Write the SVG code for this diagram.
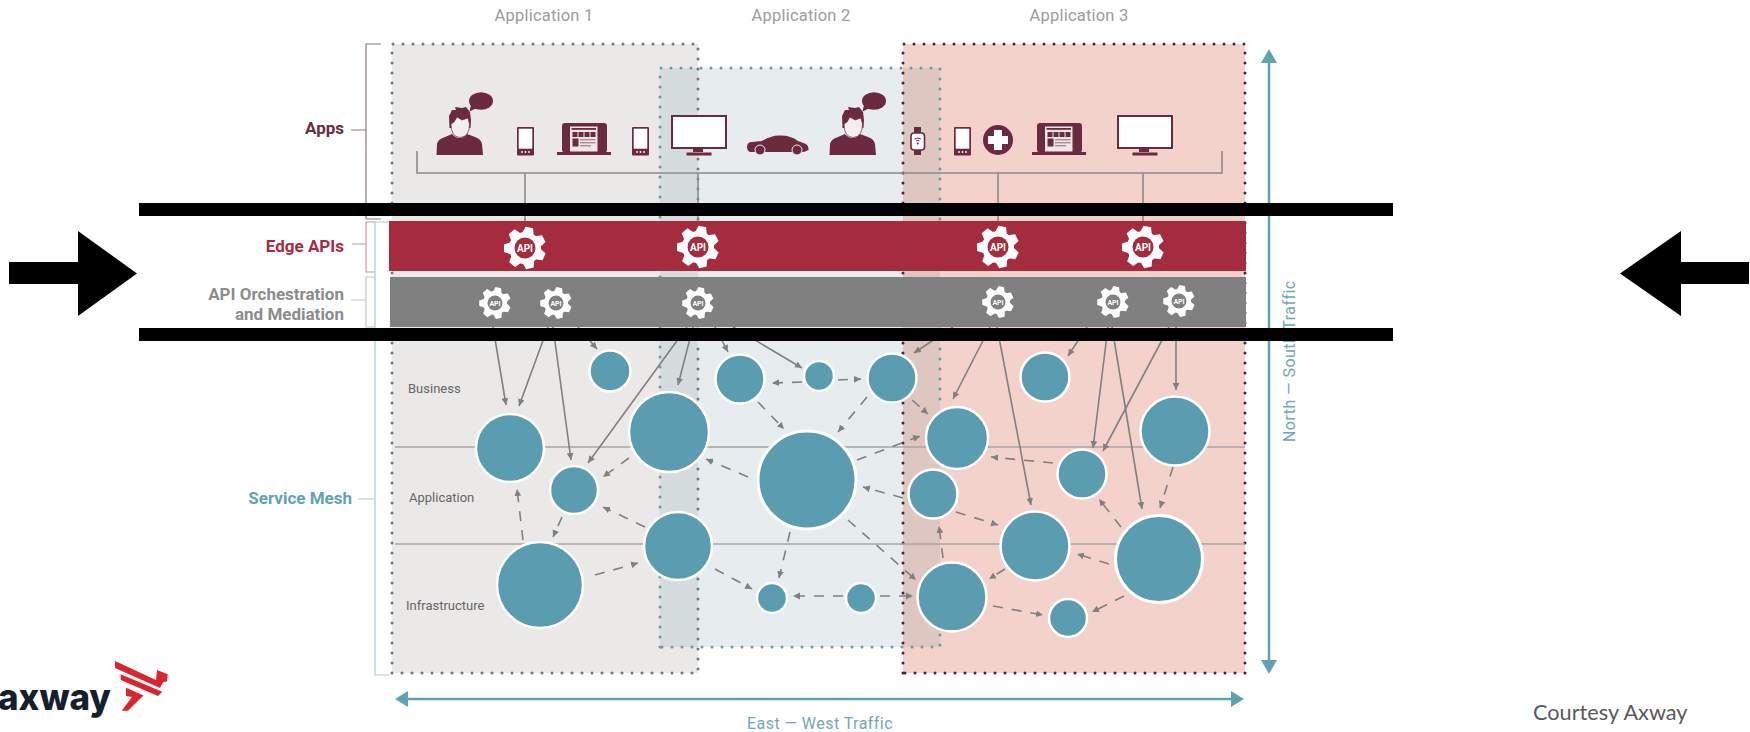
<svg xmlns="http://www.w3.org/2000/svg" xmlns:xlink="http://www.w3.org/1999/xlink" width="1750" height="732" viewBox="0 0 1750 732">
<style>
text{font-family:Roboto,"Liberation Sans",sans-serif}
.app{font-size:16.5px;fill:#9c9c9c;text-anchor:middle;letter-spacing:.2px}
.lbl{font-size:17px;font-weight:700;text-anchor:end}
.layer{font-size:13px;fill:#666}
.traffic{font-size:16px;fill:#72a7b5;letter-spacing:.45px}
.tick{stroke-width:1.2;fill:none}
.dot{fill:none;stroke-width:3;stroke-linecap:round;stroke-dasharray:0 10}
.band{stroke:#a9a5a5;stroke-width:1.5;fill:none}
.bus{stroke:#8b8b8b;stroke-width:1.6;fill:none}
.ink{fill:#6b2a40}
.c{fill:#5b9db0;stroke:#fff;stroke-width:2.5}
.s{stroke:#808080;stroke-width:1.6;fill:none;marker-end:url(#ah)}
.d{stroke:#808080;stroke-width:1.6;fill:none;stroke-dasharray:10 9;marker-end:url(#ah)}
.t{stroke:#5fa3b2;stroke-width:2.5;fill:none}
.ta{fill:#5fa3b2}
.gt{font-weight:700;fill:#fff;text-anchor:middle}
</style>
<defs>
<marker id="ah" markerUnits="userSpaceOnUse" markerWidth="8" markerHeight="8" refX="7" refY="4" orient="auto"><path d="M0 .6L7 4L0 7.400Z" fill="#808080"/></marker>
<g id="gear" fill="#fff" transform="rotate(12)">
<circle r="16"/>
<path id="tooth" d="M-6-14L-3.800-21H3.800L6-14Z"/>
<use xlink:href="#tooth" href="#tooth" transform="rotate(51.430)"/>
<use xlink:href="#tooth" href="#tooth" transform="rotate(102.860)"/>
<use xlink:href="#tooth" href="#tooth" transform="rotate(154.290)"/>
<use xlink:href="#tooth" href="#tooth" transform="rotate(205.710)"/>
<use xlink:href="#tooth" href="#tooth" transform="rotate(257.140)"/>
<use xlink:href="#tooth" href="#tooth" transform="rotate(308.570)"/>
</g>
<g id="person">
<path class="ink" d="M436.500 155L437 144Q438 139 445 137L452 134Q459 142 467 134L475 137Q481 139 482 144L483 155Z"/>
<path class="ink" d="M449.500 128L449 116L452 110L456 110L455 107L462 108L466 107L470 112L471 120L470.500 128Z"/>
<path d="M451 124L454 122L457 117L462 120L468 118L469.500 124Q469.500 137 460 137.500Q451 137 451 124Z" fill="#f2efef" stroke="#6b2a40" stroke-width=".7"/>
<ellipse class="ink" cx="481" cy="101" rx="12" ry="8.800"/>
<path class="ink" d="M471 105L469.500 111.500L477 108Z"/>
</g>
<g id="phone">
<rect class="ink" x="0" y="0" width="17" height="28.500" rx="1"/>
<rect x="1.700" y="1.700" width="13.600" height="20" fill="#fff"/>
<circle cx="5" cy="25" r=".9" fill="#fff"/><circle cx="8.500" cy="25" r=".9" fill="#fff"/><circle cx="12" cy="25" r=".9" fill="#fff"/>
</g>
<g id="laptop">
<rect class="ink" x="5" y="0" width="45" height="29.500" rx="3"/>
<rect class="ink" x="0" y="29" width="54" height="3"/>
<rect x="13" y="3.500" width="27.500" height="25" fill="#efe6e6"/>
<rect class="ink" x="14.500" y="5" width="24.500" height="1.800"/>
<rect class="ink" x="15.500" y="9" width="5" height="5"/><rect class="ink" x="21.500" y="9" width="5" height="5"/><rect class="ink" x="27.500" y="9" width="5" height="5"/><rect class="ink" x="33.500" y="9" width="5" height="5"/>
<rect class="ink" x="15.500" y="15.500" width="6" height="8"/>
<rect x="23" y="16" width="15.500" height="1.400" fill="#a98c96"/><rect x="23" y="19" width="15.500" height="1.400" fill="#a98c96"/><rect x="23" y="22" width="11" height="1.400" fill="#a98c96"/>
</g>
<g id="monitor">
<rect x="1" y="1" width="54" height="32" fill="#fff" stroke="#6b2a40" stroke-width="2"/>
<rect class="ink" x="22" y="34" width="10" height="3"/>
<rect class="ink" x="15.500" y="37.500" width="25" height="3"/>
</g>
</defs>

<rect width="1750" height="732" fill="#fff"/>

<g id="zones">
<rect x="392" y="44" width="306" height="629" fill="#ebe8e8"/>
<rect x="660" y="68" width="280" height="579" fill="#e7edef"/>
<rect x="903" y="44" width="342" height="629" fill="#f3d2cc"/>
<rect x="660" y="68" width="38" height="579" fill="#d5dcde"/>
<rect x="903" y="68" width="37" height="579" fill="#dec6c1"/>
<path class="dot" stroke="#777" d="M392 673V44H698V673H392"/>
<path class="dot" stroke="#6c9aa6" d="M660 647V68H940V400M940 635V647H660"/>
<path class="dot" stroke="#4a2433" d="M903 673V44H1245V673H903"/>
<path class="band" d="M395 447H1245M395 544H1245"/>
</g>

<g id="brackets">
<path class="tick" stroke="#8a7a80" d="M381 44H366V219H381M351 130H366"/>
<path class="tick" stroke="#c79aa2" d="M375 222H366V272H375M352 244H366"/>
<path class="tick" stroke="#c4c4c4" d="M375 277H366V327H375M351 300H366"/>
<path class="tick" stroke="#a5ccd6" d="M389 222H375V675H389M358 499H374"/>
</g>

<g id="labels">
<text class="app" x="544" y="21">Application 1</text>
<text class="app" x="801" y="21">Application 2</text>
<text class="app" x="1079" y="21">Application 3</text>
<text class="lbl" x="344" y="134" fill="#6b2a40">Apps</text>
<text class="lbl" x="344" y="252" fill="#a52c3f">Edge APIs</text>
<text class="lbl" x="344" y="300" fill="#8c8c8c">API Orchestration</text>
<text class="lbl" x="344" y="320" fill="#8c8c8c">and Mediation</text>
<text class="lbl" x="352" y="504" fill="#63a2b2">Service Mesh</text>
<text class="layer" x="408" y="393">Business</text>
<text class="layer" x="409" y="502">Application</text>
<text class="layer" x="406" y="610">Infrastructure</text>
<text class="traffic" x="747" y="729">East — West Traffic</text>
<text class="traffic" transform="translate(1295 442) rotate(-90)">North — South Traffic</text>
<text x="1533" y="720" font-size="21.700" fill="#595959" style="font-family:Lato,'Open Sans',sans-serif">Courtesy Axway</text>
</g>

<g id="apps-bus"><path class="bus" d="M417 151V173H1222V151M525 173V221M698 173V221M998 173V221M1143 173V221"/></g>

<g id="app-icons">
<use id="user-1" xlink:href="#person" href="#person"/>
<use id="phone-1" xlink:href="#phone" href="#phone" x="517" y="127"/>
<use id="laptop-1" xlink:href="#laptop" href="#laptop" x="557" y="123"/>
<use id="phone-2" xlink:href="#phone" href="#phone" x="632" y="127"/>
<use id="monitor-1" xlink:href="#monitor" href="#monitor" x="671" y="115"/>
<g id="car">
<path class="ink" d="M747 147Q747 142 752 142L762 141Q772 135 780 135.500Q790 135 798 141L806 144Q809 146 808.500 150L804 152H750Q747 151 747 147Z"/>
<circle cx="760" cy="150" r="5" fill="#6b2a40" stroke="#e7edef" stroke-width="1"/>
<circle cx="797" cy="150" r="5" fill="#6b2a40" stroke="#e7edef" stroke-width="1"/>
</g>
<use id="user-2" xlink:href="#person" href="#person" x="393"/>
<g id="watch">
<rect class="ink" x="914" y="127" width="7" height="8"/><rect class="ink" x="914" y="148" width="7" height="7"/>
<rect x="911" y="133" width="13.500" height="17" rx="3" fill="#fff" stroke="#6b2a40" stroke-width="1.600"/>
<path d="M914.500 139Q917.700 137 921 139M916 141Q917.700 140 919.500 141" fill="none" stroke="#6b2a40" stroke-width="1"/>
<circle cx="917.700" cy="143.500" r="1" fill="#6b2a40"/>
</g>
<use id="phone-3" xlink:href="#phone" href="#phone" x="954" y="127"/>
<g id="health"><circle class="ink" cx="998" cy="140" r="15"/><path fill="#fff" d="M994 130H1002V136H1008V144H1002V150H994V144H988V136H994Z"/></g>
<use id="laptop-2" xlink:href="#laptop" href="#laptop" x="1032" y="123"/>
<use id="monitor-2" xlink:href="#monitor" href="#monitor" x="1117" y="115"/>
</g>

<g id="bars">
<rect id="edge-bar" x="389" y="221" width="857" height="50" fill="#a52b3e"/>
<rect id="orchestration-bar" x="390" y="277" width="856" height="50" fill="#808080"/>
</g>

<g id="edge-gears" font-size="10">
<g id="edge-1" transform="translate(525 248)"><use xlink:href="#gear" href="#gear"/><circle r="10.500" fill="#a52b3e"/><text class="gt" y="3.500">API</text></g>
<g id="edge-2" transform="translate(698 247)"><use xlink:href="#gear" href="#gear"/><circle r="10.500" fill="#a52b3e"/><text class="gt" y="3.500">API</text></g>
<g id="edge-3" transform="translate(998 247)"><use xlink:href="#gear" href="#gear"/><circle r="10.500" fill="#a52b3e"/><text class="gt" y="3.500">API</text></g>
<g id="edge-4" transform="translate(1143 247)"><use xlink:href="#gear" href="#gear"/><circle r="10.500" fill="#a52b3e"/><text class="gt" y="3.500">API</text></g>
</g>
<g id="orchestration-gears" font-size="7">
<g id="orch-1" transform="translate(495 303)"><use xlink:href="#gear" href="#gear" transform="scale(.75)"/><circle r="7.500" fill="#808080"/><text class="gt" y="2.500">API</text></g>
<g id="orch-2" transform="translate(556 303)"><use xlink:href="#gear" href="#gear" transform="scale(.75)"/><circle r="7.500" fill="#808080"/><text class="gt" y="2.500">API</text></g>
<g id="orch-3" transform="translate(698 303)"><use xlink:href="#gear" href="#gear" transform="scale(.75)"/><circle r="7.500" fill="#808080"/><text class="gt" y="2.500">API</text></g>
<g id="orch-4" transform="translate(998 302)"><use xlink:href="#gear" href="#gear" transform="scale(.75)"/><circle r="7.500" fill="#808080"/><text class="gt" y="2.500">API</text></g>
<g id="orch-5" transform="translate(1113 302)"><use xlink:href="#gear" href="#gear" transform="scale(.75)"/><circle r="7.500" fill="#808080"/><text class="gt" y="2.500">API</text></g>
<g id="orch-6" transform="translate(1179 301)"><use xlink:href="#gear" href="#gear" transform="scale(.75)"/><circle r="7.500" fill="#808080"/><text class="gt" y="2.500">API</text></g>
</g>

<g id="connectors">
<path class="s" d="M493 327L506 405"/>
<path class="s" d="M548 327L519 406"/>
<path class="s" d="M553 327L571 460"/>
<path class="s" d="M578 327L597 349"/>
<path class="s" d="M687 327L588 463"/>
<path class="s" d="M693 327L678 385"/>
<path class="s" d="M715 327L728 352"/>
<path class="s" d="M733 327L802 368"/>
<path class="s" d="M953 327L914 353"/>
<path class="s" d="M990 327L953 399"/>
<path class="s" d="M997 327L1031 505"/>
<path class="s" d="M1087 327L1068 356"/>
<path class="s" d="M1108 327L1093 448"/>
<path class="s" d="M1112 327L1142 509"/>
<path class="s" d="M1169 327L1103 451"/>
<path class="s" d="M1176 327V390"/>
<path class="d" d="M523 540L517 489"/>
<path class="d" d="M562 517L553 537"/>
<path class="d" d="M629 458L603 477"/>
<path class="d" d="M645 527L603 507"/>
<path class="d" d="M595 575L638 563"/>
<path class="d" d="M715 569L752 589"/>
<path class="d" d="M748 477L706 459"/>
<path class="d" d="M802 382L772 383"/>
<path class="d" d="M838 380L861 379"/>
<path class="d" d="M758 402L784 429"/>
<path class="d" d="M867 397L838 432"/>
<path class="d" d="M912 400L928 414"/>
<path class="d" d="M857 460L920 436"/>
<path class="d" d="M903 498L863 487"/>
<path class="d" d="M848 520L916 580"/>
<path class="d" d="M790 532L779 578"/>
<path class="d" d="M956 512L998 525"/>
<path class="d" d="M943 558L939 526"/>
<path class="d" d="M1053 463L991 457"/>
<path class="d" d="M1121 527L1099 499"/>
<path class="d" d="M1109 564L1077 554"/>
<path class="d" d="M1005 569L989 579"/>
<path class="d" d="M1124 596L1092 612"/>
<path class="d" d="M993 606L1043 615"/>
<path class="d" d="M843 596H793"/>
<path class="d" d="M880 596H913"/>
<path class="d" d="M1173 467L1160 508"/>
</g>

<g id="services">
<circle id="svc-1" class="c" cx="610" cy="371" r="20.500"/>
<circle id="svc-2" class="c" cx="510" cy="448" r="34"/>
<circle id="svc-3" class="c" cx="574" cy="490" r="24"/>
<circle id="svc-4" class="c" cx="669" cy="432" r="40"/>
<circle id="svc-5" class="c" cx="678" cy="546" r="34"/>
<circle id="svc-6" class="c" cx="540" cy="585" r="43"/>
<circle id="svc-7" class="c" cx="740" cy="379" r="24.500"/>
<circle id="svc-8" class="c" cx="819" cy="376" r="15"/>
<circle id="svc-9" class="c" cx="892" cy="378" r="24.500"/>
<circle id="svc-10" class="c" cx="807" cy="480" r="49" style="stroke-width:3"/>
<circle id="svc-11" class="c" cx="957" cy="438" r="31"/>
<circle id="svc-12" class="c" cx="933" cy="494" r="24.500"/>
<circle id="svc-13" class="c" cx="1045" cy="377" r="24.500"/>
<circle id="svc-14" class="c" cx="1082" cy="474" r="24.500"/>
<circle id="svc-15" class="c" cx="1035" cy="546" r="34.500"/>
<circle id="svc-16" class="c" cx="952" cy="597" r="34.500"/>
<circle id="svc-17" class="c" cx="772" cy="598" r="15"/>
<circle id="svc-18" class="c" cx="861" cy="598" r="15"/>
<circle id="svc-19" class="c" cx="1068" cy="618" r="19"/>
<circle id="svc-20" class="c" cx="1175" cy="431" r="34.500"/>
<circle id="svc-21" class="c" cx="1159" cy="559" r="43.500" style="stroke-width:3"/>
</g>

<g id="traffic-arrows">
<path class="t" d="M1269 60V663"/>
<path class="ta" d="M1269 49L1277 63H1261Z"/>
<path class="ta" d="M1269 674L1277 660H1261Z"/>
<path class="t" d="M405 699H1234"/>
<path class="ta" d="M395 699L408 691V707Z"/>
<path class="ta" d="M1244 699L1231 691V707Z"/>
</g>

<g id="overlay" fill="#000">
<rect x="139" y="203" width="1254" height="13"/>
<rect x="139" y="328" width="1254" height="13"/>
<path d="M9 262H78V231L137 273.500L78 316V284H9Z"/>
<path d="M1749 262H1681V231L1620 273.500L1681 316V284H1749Z"/>
</g>

<g id="logo">
<text x="111" y="710" text-anchor="end" font-size="37" font-weight="800" fill="#14202b" style="font-family:Inter,Roboto,sans-serif" textLength="113" lengthAdjust="spacingAndGlyphs">axway</text>
<path fill="#d9262e" d="M115 661L156 680L157 670L167.700 674.300L167 681.700L163.300 681.700L160 688L115 668Z"/>
<path fill="#d9262e" d="M120.700 674.300L162.300 691.700L158 696L120.700 680Z"/>
<path fill="#d9262e" d="M126 687.700L143.500 695.500L128 710.700H121.700L132 697L126 696Z"/>
</g>
</svg>
